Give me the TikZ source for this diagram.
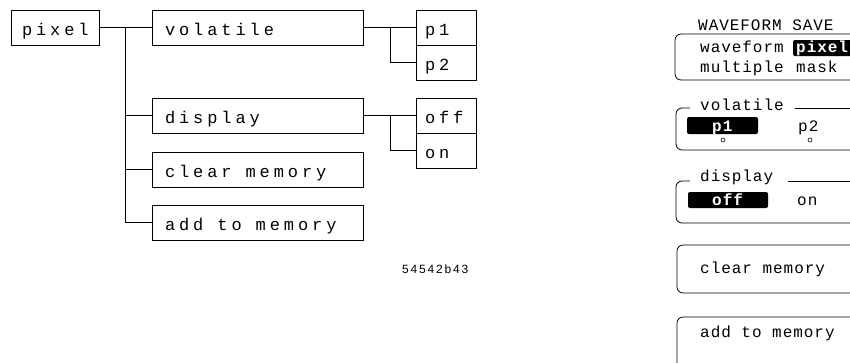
\documentclass[tikz,border=0pt]{standalone}
\usepackage{fontspec}
\setmainfont{Liberation Sans}
\newfontfamily\treefont[LetterSpace=23]{Liberation Mono}
\newfontfamily\panelfont[LetterSpace=6]{Liberation Mono}
\newfontfamily\labfont[LetterSpace=15]{Liberation Sans}
\newcommand\tsp{\hspace*{14pt}}
\begin{document}
\begin{tikzpicture}[x=1pt,y=-1pt,
  lbox/.style={draw, line width=0.8pt, inner ysep=0pt, align=left,
    font=\treefont\fontsize{17}{17}\selectfont, text height=17pt, text depth=2pt,
    minimum height=35pt},
  wide/.style={lbox, inner xsep=13pt, text width=185pt},
  small/.style={lbox, inner xsep=9pt, text width=42pt},
  conn/.style={line width=0.8pt},
  ptext/.style={font=\panelfont\fontsize{16}{16}\selectfont, inner sep=0pt, anchor=base west},
  ptextw/.style={ptext, text=white, font=\panelfont\bfseries\fontsize{16}{16}\selectfont},
  pframe/.style={line width=0.8pt, rounded corners=6pt},
  hl/.style={fill=black, rounded corners=2pt}]
\useasboundingbox (0,0) rectangle (850,362);
\clip (0,0) rectangle (850,362);
% ---------- tree ----------
\node[lbox, inner xsep=11pt, text width=66pt] (pixel) at (55,27.5) {pixel};
\node[wide] (vol) at (257.5,27.5) {volatile};
\node[wide] (disp) at (257.5,115.5) {display};
\node[wide] (clr) at (257.5,169.5) {clear\tsp memory};
\node[wide] (add) at (257.5,222.5) {add\tsp to\tsp memory};
\node[small] (p1) at (446,27.5) {p1};
\node[small] (p2) at (446,62.5) {p2};
\node[small] (off) at (446,115.5) {off};
\node[small] (on) at (446,150.5) {on};
\coordinate (t) at (125,27.5);
\coordinate (b1) at (390,27.5);
\coordinate (b2) at (390,115.5);
\draw[conn] (pixel.east) -- (vol.west);
\draw[conn] (t) |- (add.west);
\draw[conn] (t |- disp.west) -- (disp.west);
\draw[conn] (t |- clr.west) -- (clr.west);
\draw[conn] (vol.east) -- (p1.west);
\draw[conn] (b1) |- (p2.west);
\draw[conn] (disp.east) -- (off.west);
\draw[conn] (b2) |- (on.west);
\node[font=\labfont\fontsize{12}{12}\selectfont, inner sep=0pt, anchor=base west] (code) at (402,273) {54542b43};
% ---------- panel ----------
\node[ptext] (title) at (698,30) {WAVEFORM SAVE};
\draw[pframe] (675,34) rectangle (875,80);
\fill[hl] (793,40) rectangle (860,56);
\node[ptext] (wf) at (700,52) {waveform};
\node[ptextw] (px) at (796,52) {pixel};
\node[ptext] (mu) at (700,72) {multiple};
\node[ptext] (mk) at (796,72) {mask};
% volatile group
\node[ptext] (volt) at (700,110) {volatile};
\draw[pframe] (690,108) -- (676,108) -- (676,150) -- (875,150);
\draw[line width=0.8pt] (795,108) -- (875,108);
\fill[hl] (687,117) rectangle (758,134);
\node[ptextw] (vp1) at (712,131) {p1};
\node[ptext] (vp2) at (798,131) {p2};
\draw[line width=0.6pt] (723,140) circle (2pt);
\draw[line width=0.6pt] (810,140) circle (2pt);
% display group
\node[ptext] (dispt) at (700,181) {display};
\draw[pframe] (690,181) -- (676,181) -- (676,223) -- (875,223);
\draw[line width=0.8pt] (788,181) -- (875,181);
\fill[hl] (688,192) rectangle (768,208);
\node[ptextw] (doff) at (712,205) {off};
\node[ptext] (don) at (797,205) {on};
% clear memory
\draw[pframe] (677,245) rectangle (875,293);
\node[ptext] (cm) at (700,273) {clear memory};
% add to memory
\draw[pframe] (677,317) rectangle (875,390);
\node[ptext] (am) at (700,337) {add to memory};
\end{tikzpicture}
\end{document}
